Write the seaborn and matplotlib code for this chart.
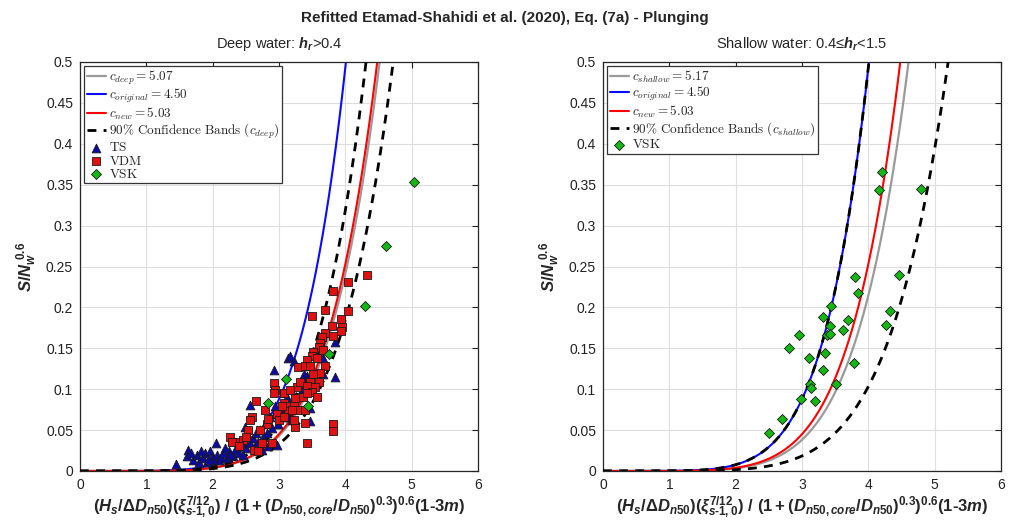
import numpy as np
import pandas as pd
import matplotlib
matplotlib.use("Agg")
import matplotlib.pyplot as plt
import seaborn as sns
from matplotlib.font_manager import FontProperties

# ---------------- data ----------------
ts_x = [1.44, 1.63, 1.62, 1.71, 1.76, 1.79, 1.85, 1.89, 1.91, 1.96, 1.99, 2.02, 2.05, 2.06,
        2.09, 2.12, 2.21, 2.25, 2.29, 2.31, 2.34, 2.39, 2.41, 2.44, 2.46, 2.49, 2.51, 2.55,
        2.56, 2.57, 2.61, 2.64, 2.66, 2.69, 2.71, 2.74, 2.76, 2.79, 2.82, 2.84, 2.87, 2.89,
        2.92, 2.94, 2.97, 2.98, 3.04, 3.07, 3.85, 3.13, 3.23, 3.59, 3.67, 3.37, 3.42, 3.42,
        3.67, 3.85, 3.47, 3.47, 3.17, 3.19, 3.17, 2.93, 1.68, 1.82, 1.94, 2.15, 2.18, 2.27,
        2.94, 2.99, 3.01, 3.10, 3.12, 3.30, 3.36]
ts_y = [0.009, 0.026, 0.018, 0.013, 0.019, 0.011, 0.016, 0.022, 0.011, 0.024, 0.017, 0.013,
        0.034, 0.020, 0.013, 0.017, 0.016, 0.024, 0.037, 0.018, 0.026, 0.022, 0.030, 0.034,
        0.020, 0.054, 0.028, 0.042, 0.081, 0.034, 0.040, 0.030, 0.046, 0.036, 0.050, 0.026,
        0.042, 0.058, 0.046, 0.030, 0.066, 0.052, 0.123, 0.079, 0.032, 0.058, 0.075, 0.066,
        0.158, 0.138, 0.134, 0.140, 0.138, 0.118, 0.116, 0.110, 0.118, 0.115, 0.077, 0.061,
        0.066, 0.062, 0.140, 0.104, 0.022, 0.024, 0.014, 0.022, 0.028, 0.020,
        0.070, 0.058, 0.072, 0.085, 0.090, 0.092, 0.100]

vdm_x = [2.26, 2.36, 2.46, 2.54, 2.59, 2.66, 2.62, 2.69, 2.74, 2.82, 2.89, 2.92, 2.94, 2.97,
         3.00, 3.09, 2.29, 2.93, 3.08, 3.07, 3.12, 3.14, 3.22, 3.24, 3.29, 3.27, 3.29, 3.36,
         3.42, 3.49, 2.71, 2.79, 2.84, 2.51, 2.39, 4.32, 4.04, 3.81, 3.70, 4.04, 3.94, 3.95,
         3.94, 3.80, 3.70, 3.81, 3.65, 3.62, 3.60, 3.67, 3.52, 3.49, 3.57, 3.42, 3.39, 3.47,
         3.70, 3.62, 3.52, 3.47, 3.61, 3.32, 3.42, 3.54, 3.49, 3.42, 3.57, 3.07, 3.17, 3.24,
         3.04, 3.19, 3.39, 3.07, 3.22, 3.39, 3.82, 3.82, 2.56]
vdm_y = [0.042, 0.036, 0.038, 0.050, 0.066, 0.085, 0.026, 0.024, 0.034, 0.058, 0.034, 0.107,
         0.099, 0.070, 0.062, 0.078, 0.036, 0.095, 0.095, 0.083, 0.079, 0.073, 0.079, 0.054,
         0.075, 0.103, 0.127, 0.091, 0.034, 0.189, 0.050, 0.075, 0.064, 0.042, 0.030, 0.240,
         0.231, 0.220, 0.197, 0.196, 0.186, 0.176, 0.171, 0.177, 0.169, 0.165, 0.164, 0.156,
         0.152, 0.148, 0.146, 0.140, 0.138, 0.136, 0.128, 0.128, 0.128, 0.120, 0.118, 0.109,
         0.109, 0.109, 0.104, 0.103, 0.097, 0.095, 0.090, 0.095, 0.099, 0.089, 0.079, 0.074,
         0.075, 0.066, 0.062, 0.059, 0.058, 0.049, 0.062]

vsk_deep_x = [2.84, 3.11, 3.43, 3.76, 4.30, 4.61, 5.04]
vsk_deep_y = [0.083, 0.113, 0.080, 0.143, 0.202, 0.275, 0.353]

vsk_shallow_x = [2.50, 2.70, 2.81, 2.96, 2.99, 3.11, 3.12, 3.13, 3.20, 3.31, 3.32, 3.35, 3.38,
                 3.42, 3.43, 3.42, 3.52, 3.62, 3.69, 3.79, 3.80, 3.84, 4.20, 4.16, 4.79, 4.46,
                 4.32, 4.27]
vsk_shallow_y = [0.047, 0.064, 0.150, 0.166, 0.088, 0.138, 0.106, 0.101, 0.086, 0.188, 0.123,
                 0.144, 0.166, 0.177, 0.202, 0.168, 0.106, 0.172, 0.184, 0.132, 0.237, 0.218,
                 0.365, 0.343, 0.345, 0.240, 0.195, 0.178]

# fitted coefficients (from legend) and confidence band coefficients
exponent = 6
c_deep, c_original, c_new = 5.07, 4.50, 5.03
band_deep = [4.84, 5.30]
c_shallow = 5.17
band_shallow = [4.50, 5.84]

x_ticks = [0, 1, 2, 3, 4, 5, 6]
y_ticks = [0, 0.05, 0.1, 0.15, 0.2, 0.25, 0.3, 0.35, 0.4, 0.45, 0.5]
y_tick_labels = ["0", "0.05", "0.1", "0.15", "0.2", "0.25", "0.3", "0.35", "0.4", "0.45", "0.5"]

# ---------------- style ----------------
sns.set_style("white")
plt.rcParams["font.family"] = ["Liberation Sans", "DejaVu Sans"]
plt.rcParams["mathtext.fontset"] = "custom"
plt.rcParams["mathtext.rm"] = "Liberation Sans:bold"
plt.rcParams["mathtext.it"] = "Liberation Sans:italic:bold"
plt.rcParams["mathtext.bf"] = "Liberation Sans:bold"

fig = plt.figure(figsize=(10.09, 5.25), dpi=100)
W, H = 1009, 525
ax_l = fig.add_axes([80 / W, (H - 471) / H, 398 / W, 409 / H])
ax_r = fig.add_axes([603 / W, (H - 471) / H, 398 / W, 409 / H])

xs = np.linspace(0, 6, 600)


def curve(c):
    return (xs / c) ** exponent


def draw_panel(ax, c_fit, fit_name, bands, points):
    sns.lineplot(x=xs, y=curve(c_fit), ax=ax, color="#9a9a9a", lw=1.6, sort=False,
                 errorbar=None, label=r"$c_{%s} = %.2f$" % (fit_name, c_fit), zorder=2)
    sns.lineplot(x=xs, y=curve(c_original), ax=ax, color="#0a0aff", lw=1.5, sort=False,
                 errorbar=None, label=r"$c_{original} = %.2f$" % c_original, zorder=2)
    sns.lineplot(x=xs, y=curve(c_new), ax=ax, color="#ff0000", lw=1.5, sort=False,
                 errorbar=None, label=r"$c_{new} = %.2f$" % c_new, zorder=2)
    for i, cb in enumerate(bands):
        sns.lineplot(x=xs, y=curve(cb), ax=ax, color="black", lw=2.0, sort=False,
                     errorbar=None, linestyle=(0, (3.2, 2.6)), zorder=3,
                     label=(r"$\mathrm{90\%%\ Confidence\ Bands}\ (c_{%s})$" % fit_name) if i == 0 else None)
    for (px, py, mk, col, s, lab) in points:
        df = pd.DataFrame({"x": px, "y": py})
        sns.scatterplot(data=df, x="x", y="y", ax=ax, marker=mk, color=col, s=s,
                        edgecolor="#1a1a1a", linewidth=0.6, label=r"$\mathrm{%s}$" % lab,
                        zorder=4)

    ax.set_xlim(0, 6)
    ax.set_ylim(0, 0.5)
    ax.set_xticks(x_ticks)
    ax.set_xticklabels([str(t) for t in x_ticks])
    ax.set_yticks(y_ticks)
    ax.set_yticklabels(y_tick_labels)
    ax.grid(True, color="#dedede", lw=0.8)
    ax.set_axisbelow(True)
    ax.tick_params(direction="in", length=4, top=True, right=True, labelsize=10,
                   colors="#222222", width=0.8, pad=5)
    for sp in ax.spines.values():
        sp.set_color("#262626")
        sp.set_linewidth(0.9)
    ax.set_xlabel(r"$(H_s/\Delta D_{n50})(\xi_{s\text{-}1,0}^{7/12})\ /\ (1+(D_{n50,core}/D_{n50})^{0.3})^{0.6}(1\text{-}3m)$",
                  fontsize=12, labelpad=2)
    ax.set_ylabel(r"$S/N_w^{\ 0.6}$", fontsize=12, labelpad=5)

    h, l = ax.get_legend_handles_labels()
    leg = ax.legend(h, l, loc="upper left", prop=FontProperties(size=9.5, math_fontfamily="cm"),
                    frameon=True, fancybox=False, framealpha=1, edgecolor="#333333",
                    borderaxespad=0.3, borderpad=0.2, handlelength=1.5, handletextpad=0.2,
                    labelspacing=0.02)
    leg.get_frame().set_linewidth(0.9)


draw_panel(ax_l, c_deep, "deep", band_deep,
           [(ts_x, ts_y, "^", "#0a0aa8", 40, "TS"),
            (vdm_x, vdm_y, "s", "#e01010", 28, "VDM"),
            (vsk_deep_x, vsk_deep_y, "D", "#14b814", 26, "VSK")])
draw_panel(ax_r, c_shallow, "shallow", band_shallow,
           [(vsk_shallow_x, vsk_shallow_y, "D", "#14b814", 26, "VSK")])

ax_l.set_title(r"Deep water: $h_r$>0.4", fontsize=10.5, pad=10)
ax_r.set_title(r"Shallow water: 0.4≤$h_r$<1.5", fontsize=10.5, pad=10)
fig.text(0.5, 1 - 18 / H, "Refitted Etamad-Shahidi et al. (2020), Eq. (7a) - Plunging",
         ha="center", va="center", fontsize=11, fontweight="bold")

fig.savefig("out.png", dpi=100)
